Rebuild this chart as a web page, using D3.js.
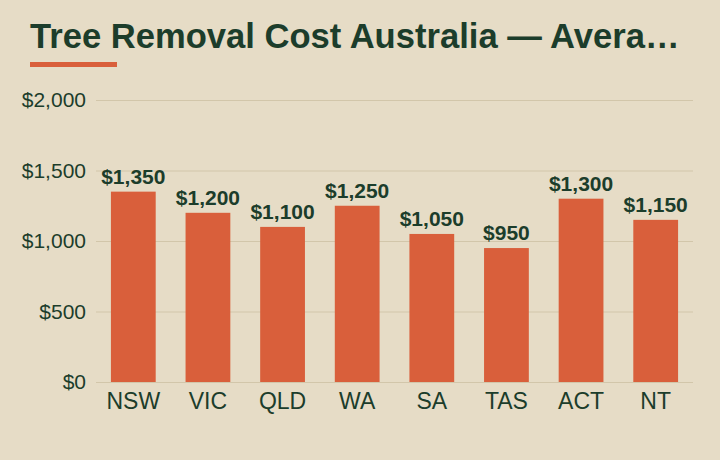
<!DOCTYPE html>
<html>
<head>
<meta charset="utf-8">
<script src="https://cdn.jsdelivr.net/npm/d3@7"></script>
<style>
  html, body { margin: 0; padding: 0; background: #e6dcc6; }
  svg { display: block; }
</style>
</head>
<body>
<div id="chart"></div>
<script>
// data
var states = ["NSW", "VIC", "QLD", "WA", "SA", "TAS", "ACT", "NT"];
var costs = [1350, 1200, 1100, 1250, 1050, 950, 1300, 1150];
var yTicks = [0, 500, 1000, 1500, 2000];

var W = 720, H = 460;
var margin = {top: 100, right: 27, bottom: 78, left: 96},
    width = W - margin.left - margin.right,
    height = H - margin.top - margin.bottom;

var ink = "#1c3d2b";

var svg = d3.select("#chart")
  .append("svg")
    .attr("width", W)
    .attr("height", H);

svg.append("rect")
  .attr("width", W)
  .attr("height", H)
  .attr("fill", "#e6dcc6");

// title + accent rule
svg.append("text")
  .attr("x", 30)
  .attr("y", 48)
  .attr("fill", ink)
  .style("font-family", "'Liberation Sans', Arial, sans-serif")
  .style("font-weight", "bold")
  .style("font-size", "34.6px")
  .text("Tree Removal Cost Australia \u2014 Avera\u2026");

svg.append("rect")
  .attr("x", 30)
  .attr("y", 62)
  .attr("width", 87)
  .attr("height", 5)
  .attr("fill", "#d95f3b");

var g = svg.append("g")
  .attr("transform", "translate(" + margin.left + "," + margin.top + ")");

var x = d3.scaleBand()
  .domain(states)
  .range([0, width])
  .paddingInner(0.4)
  .paddingOuter(0.2);

var y = d3.scaleLinear()
  .domain([0, 2000])
  .range([height, 0]);

// gridlines
g.append("g")
  .selectAll("line")
  .data(yTicks)
  .enter()
  .append("line")
    .attr("x1", 0)
    .attr("x2", width)
    .attr("y1", function(d) { return y(d) + 0.5; })
    .attr("y2", function(d) { return y(d) + 0.5; })
    .attr("stroke", "#d2c6aa")
    .attr("stroke-width", 1);

// y axis labels
var yAxis = g.append("g")
  .call(d3.axisLeft(y)
    .tickValues(yTicks)
    .tickSize(0)
    .tickPadding(10)
    .tickFormat(function(d) { return "$" + d3.format(",")(d); }));
yAxis.select(".domain").remove();
yAxis.selectAll("text")
  .attr("fill", ink)
  .style("font-family", "'Liberation Sans', Arial, sans-serif")
  .style("font-size", "21px");

// x axis labels
var xAxis = g.append("g")
  .attr("transform", "translate(0," + height + ")")
  .call(d3.axisBottom(x).tickSize(0).tickPadding(11));
xAxis.select(".domain").remove();
xAxis.selectAll("text")
  .attr("fill", ink)
  .style("font-family", "'Liberation Sans', Arial, sans-serif")
  .style("font-size", "23px");

// bars
g.selectAll(".bar")
  .data(costs)
  .enter()
  .append("rect")
    .attr("class", "bar")
    .attr("x", function(d, i) { return x(states[i]); })
    .attr("y", function(d) { return y(d); })
    .attr("width", x.bandwidth())
    .attr("height", function(d) { return height - y(d); })
    .attr("fill", "#d95f3b");

// value labels
g.selectAll(".val")
  .data(costs)
  .enter()
  .append("text")
    .attr("class", "val")
    .attr("x", function(d, i) { return x(states[i]) + x.bandwidth() / 2; })
    .attr("y", function(d) { return y(d) - 8; })
    .attr("text-anchor", "middle")
    .attr("fill", ink)
    .style("font-family", "'Liberation Sans', Arial, sans-serif")
    .style("font-weight", "bold")
    .style("font-size", "21px")
    .text(function(d) { return "$" + d3.format(",")(d); });
</script>
</body>
</html>
